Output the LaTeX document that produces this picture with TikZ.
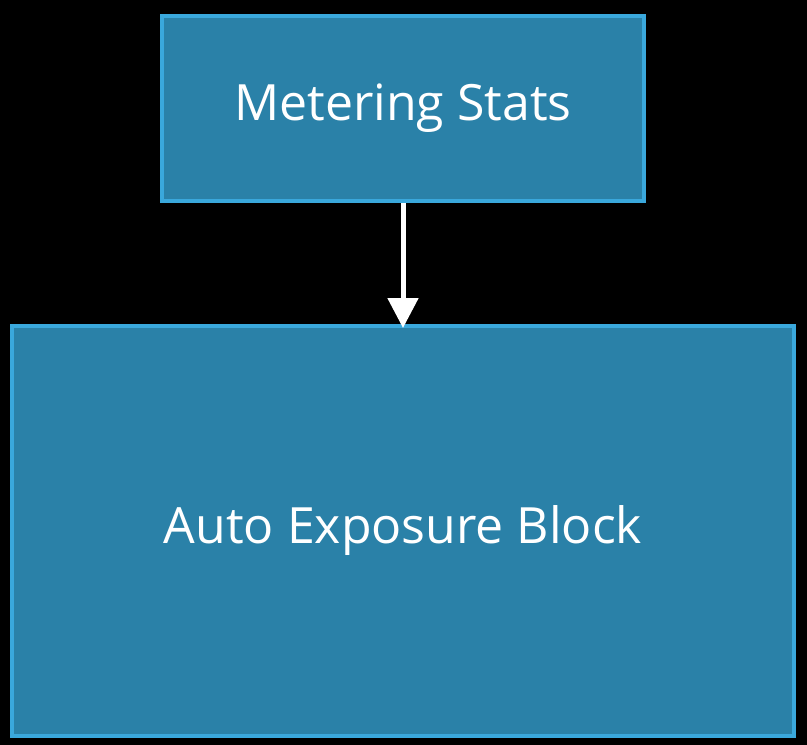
\documentclass[tikz,border=0pt]{standalone}
\usepackage{fontspec}
\setmainfont{Open Sans}
\usetikzlibrary{arrows.meta}
\definecolor{boxfill}{HTML}{2A81A8}
\definecolor{boxline}{HTML}{3AA8DC}
\begin{document}
\begin{tikzpicture}[x=1pt,y=-1pt,
  blk/.style={draw=boxline,fill=boxfill,line width=4pt,text=white,font=\fontsize{50}{60}\selectfont,inner sep=0pt}]
\fill[black] (0,0) rectangle (807,745);
\useasboundingbox (0,0) rectangle (807,745);
\node[blk,minimum width=482pt,minimum height=185pt] (ms) at (403,108.5) {Metering Stats};
\node[blk,minimum width=782pt,minimum height=410pt] (ae) at (403,531) {Auto Exposure Block};
\draw[white,line width=5pt,-{Triangle[length=30pt,width=30pt]}] (ms.south) -- ([yshift=-4pt]ae.north);
\end{tikzpicture}
\end{document}
